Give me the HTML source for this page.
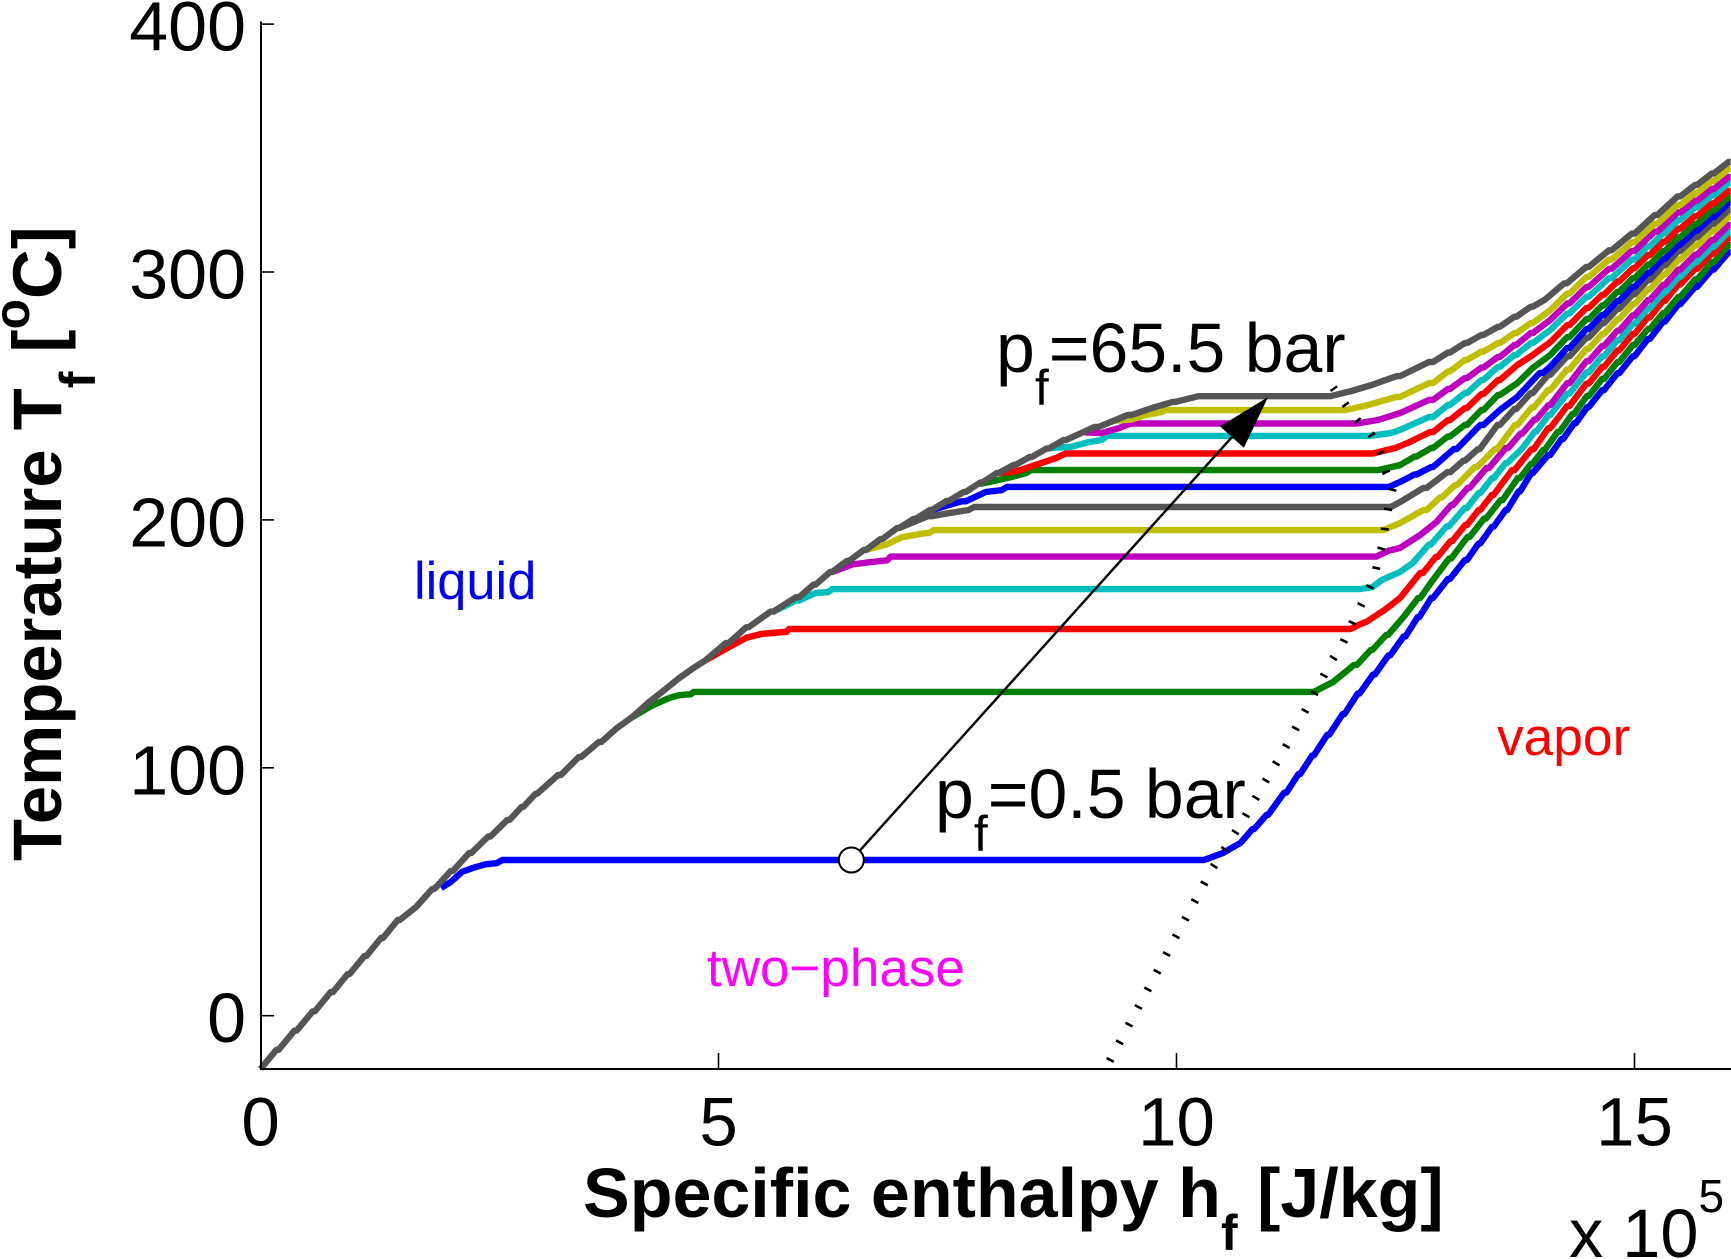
<!DOCTYPE html>
<html lang="en">
<head>
<meta charset="utf-8">
<title>Temperature vs specific enthalpy</title>
<style>
html,body{margin:0;padding:0;background:#fff;}
svg{display:block;font-family:"Liberation Sans",Arial,sans-serif;}
</style>
</head>
<body>
<svg id="chart" width="1731" height="1259" viewBox="0 0 1731 1259" xmlns="http://www.w3.org/2000/svg">
  <rect x="0" y="0" width="1731" height="1259" fill="#fff"/>
  <g id="series-layer"></g>
  <g id="annotation-layer"></g>
  <g id="axis-layer"></g>
  <text x="583" y="1217" font-size="70" font-weight="bold" fill="#000">Specific enthalpy h<tspan font-size="50" dy="33">f</tspan><tspan dy="-33"> [J/kg]</tspan></text>
  <text x="61" y="861" transform="rotate(-90 61 861)" font-size="68.8" font-weight="bold" fill="#000">Temperature T<tspan font-size="50" dy="34">f</tspan><tspan dy="-34"> [</tspan><tspan font-size="50" dy="-32">o</tspan><tspan dy="32">C]</tspan></text>
  <text x="1569" y="1257" font-size="68.5" fill="#000">x 10<tspan font-size="46" dy="-45">5</tspan></text>
  <text x="996" y="372" font-size="69.8" fill="#000">p<tspan font-size="50" dy="33">f</tspan><tspan dy="-33">=65.5 bar</tspan></text>
  <text x="935" y="818" font-size="69.8" fill="#000">p<tspan font-size="50" dy="33">f</tspan><tspan dy="-33">=0.5 bar</tspan></text>
  <text x="414" y="599" font-size="52.4" fill="#0000ff">liquid</text>
  <text x="707" y="986" font-size="53" fill="#ff00ff">two&#8722;phase</text>
  <text x="1497" y="755" font-size="53.3" fill="#ff0000">vapor</text>
</svg>
<script>
// x values are in units of 1e5 J/kg, y values in degrees C
const xTicks = [0, 5, 10, 15];
const yTicks = [0, 100, 200, 300, 400];

const seriesBlue1 = [[1.97,51.5],[2.08,54],[2.2,58],[2.31,59.5],[2.46,61.1],[2.58,61.5],[2.64,62.8],[10.3,62.8],[10.5,65.5],[10.7,69.7],[11.0,81],[11.2,90],[11.5,105],[12,130],[12.5,153],[12.8,168.5],[13.17,183.8],[13.61,204],[13.89,218.9],[14.08,226.2],[14.5,245.5],[15,266],[15.5,287],[16.05,308]];
const seriesGreen1 = [[4.06,120.5],[4.27,125],[4.46,128.1],[4.57,129.3],[4.7,129.7],[4.73,130.6],[11.5,130.6],[11.71,134.6],[11.97,141.5],[12.31,153.6],[12.48,160.9],[12.66,168.5],[12.8,175.8],[13.2,193.1],[13.56,208],[13.75,216.9],[14.02,228.2],[14.5,250],[15,270.5],[15.5,290],[16.05,310.9]];
const seriesRed1 = [[4.86,143.4],[5.08,148],[5.3,152.4],[5.47,154],[5.74,154.8],[5.77,156],[11.9,156],[12.01,158],[12.08,159],[12.27,163.6],[12.44,168.5],[12.69,178.6],[13.17,197.9],[13.46,210],[13.69,220.1],[13.9,228.5],[14.08,237],[14.5,255],[15,275],[15.5,295],[16.05,313.7]];
const seriesCyan1 = [[5.6,163],[5.88,167.5],[6.06,170.5],[6.2,170.9],[6.24,172.1],[12,172.1],[12.14,172.9],[12.24,175.7],[12.44,179],[12.58,182.6],[13.17,204.8],[13.61,222.9],[13.78,229],[14.08,242.3],[14.5,259.5],[15,279],[15.5,298],[16.05,316.2]];
const seriesMagenta1 = [[6.24,179],[6.46,182],[6.64,182.9],[6.84,183.7],[6.88,185.2],[12.18,185.2],[12.31,187.5],[12.44,188.7],[12.66,193.9],[12.84,199.2],[13.2,212.9],[13.62,229],[14.08,246.3],[14.5,264],[15,282.5],[15.5,301],[16.05,318.9]];
const seriesYellow1 = [[6.61,187.9],[6.83,190],[7,193],[7.3,194.7],[7.35,195.9],[12.26,195.9],[12.44,198.7],[12.73,204],[13.06,214],[13.5,228.5],[13.72,238.3],[14.08,252.4],[14.5,269],[15,287],[15.5,305],[16.05,322.2]];
const seriesGrey1 = [[6.97,196.7],[7.33,201.5],[7.51,202.7],[7.73,204],[7.79,205.2],[12.34,205.2],[12.44,207.2],[12.73,212.9],[12.99,219.3],[13.31,228.5],[13.53,238.3],[13.89,251.2],[14.08,258.5],[14.5,273.5],[15,291],[15.5,308.5],[16.05,325]];
const seriesBlue2 = [[7.33,204],[7.7,207.5],[7.92,211.3],[8.09,212],[8.15,213.3],[12.32,213.3],[12.44,215.3],[12.8,221.3],[13.06,228.6],[13.35,238.3],[13.53,244.3],[13.72,249.6],[14,259.3],[14.08,261.8],[14.5,277],[15,294],[15.5,311],[16.05,327.8]];
const seriesGreen2 = [[7.85,214.5],[7.98,215.5],[8.2,217.3],[8.36,218.9],[8.41,220.1],[12.2,220.1],[12.44,222.1],[12.8,229],[13.17,238.3],[13.53,250.4],[13.72,255.2],[13.89,261.3],[14.08,266.5],[14.5,281],[15,297.5],[15.5,314],[16.05,330.2]];
const seriesRed2 = [[8.06,218.9],[8.24,219.5],[8.46,222.1],[8.68,224.9],[8.79,226.8],[12.14,226.8],[12.39,229],[12.52,231],[12.8,235.4],[13.17,245.1],[13.53,256.4],[13.72,262.5],[13.89,266.5],[14.08,271.7],[14.5,285.5],[15,301.5],[15.5,317.5],[16.05,332.7]];
const seriesCyan2 = [[8.61,229],[8.85,229.5],[9.04,231.4],[9.18,232.2],[9.24,233.9],[12.1,233.9],[12.34,235],[12.44,236.3],[12.8,241.5],[13.17,251.2],[13.53,261.7],[13.89,271.3],[14.08,276.6],[14.5,290],[15,305],[15.5,321],[16.05,335.9]];
const seriesMagenta2 = [[9,235.3],[9.18,235],[9.37,237],[9.45,238.2],[9.51,238.9],[11.97,238.9],[12.2,240.3],[12.44,243.1],[12.8,248.4],[13.17,257.2],[13.53,265.7],[13.89,275.4],[14.08,280.6],[14.5,294],[15,308.5],[15.5,324],[16.05,338.3]];
const seriesYellow2 = [[9.33,240],[9.51,240.5],[9.66,242.3],[9.84,243.5],[9.88,244.3],[11.84,244.3],[12.09,246.3],[12.44,249.6],[12.8,255.2],[13.17,264.5],[13.53,271.3],[13.89,279.4],[14.08,284.6],[14.5,298],[15,312],[15.5,327],[16.05,341.6]];
const seriesGrey2 = [[0,-21.5],[0.79,9.5],[1.52,38.6],[1.7,43.9],[2.3,65.6],[2.72,79],[3.02,89.5],[3.28,97.1],[3.5,104.3],[3.72,110.4],[3.89,116],[4.06,120.5],[4.24,126.5],[4.38,130.5],[4.57,136.2],[4.71,139.8],[4.86,143.4],[5.11,150.3],[5.33,156.7],[5.6,163],[5.88,168.8],[6.24,179],[6.61,187.9],[6.97,196.7],[7.33,204],[7.7,211.3],[8.06,218.9],[8.42,225.4],[8.79,232.2],[9.15,237.5],[9.51,242.3],[9.73,245.1],[9.99,247.6],[10.24,249.9],[11.68,249.9],[11.91,252],[12.13,254.4],[12.44,258],[12.8,263.7],[13.17,271.3],[13.53,277.9],[13.89,286],[14.02,288.8],[14.5,302],[15,315.5],[15.5,330.5],[16.05,344.4]];
const saturatedVaporLine = [[9.27,-18.3],[10.38,58.7],[10.74,79.7],[10.96,93.9],[11.18,107.6],[11.38,121.3],[11.7,143.5],[11.81,149.9],[11.97,162.4],[12.07,169.7],[12.16,177],[12.2,183.8],[12.26,191.4],[12.28,198.3],[12.32,206.4],[12.37,214],[12.29,218.9],[12.24,226.1],[12.13,234.2],[11.97,240.3],[11.84,246.8],[11.71,253.3]];

const startState = [6.45, 62.8];
const endState = [11.0, 249.6];

const svgNS = 'http://www.w3.org/2000/svg';
const xScale = function (h) { return 260.5 + h * 91.6; };
const yScale = function (t) { return 1015.7 - t * 2.479; };

function pointsAttr(data) {
  return data.map(function (p) { return xScale(p[0]).toFixed(1) + ',' + yScale(p[1]).toFixed(1); }).join(' ');
}

// the source plot has small quantisation steps along sloped parts of each curve
function steppedPoints(data) {
  const out = [];
  for (let i = 0; i < data.length; i++) {
    const x1 = xScale(data[i][0]);
    const y1 = yScale(data[i][1]);
    if (i === 0) {
      out.push(x1.toFixed(1) + ',' + y1.toFixed(1));
      continue;
    }
    const x0 = xScale(data[i - 1][0]);
    const y0 = yScale(data[i - 1][1]);
    const dx = x1 - x0;
    const dy = y1 - y0;
    const len = Math.hypot(dx, dy);
    if (Math.abs(dy) < 0.5 || len < 24) {
      out.push(x1.toFixed(1) + ',' + y1.toFixed(1));
      continue;
    }
    const n = Math.round(len / 24);
    for (let k = 1; k <= n; k++) {
      const ex = x0 + dx * k / n;
      const ey = y0 + dy * k / n;
      out.push((ex - dx / n * 0.12).toFixed(1) + ',' + ey.toFixed(1));
      out.push(ex.toFixed(1) + ',' + ey.toFixed(1));
    }
  }
  return out.join(' ');
}

const seriesLayer = document.getElementById('series-layer');
const annotationLayer = document.getElementById('annotation-layer');
const axisLayer = document.getElementById('axis-layer');

function addCurve(data, color, name) {
  const line = document.createElementNS(svgNS, 'polyline');
  line.setAttribute('points', steppedPoints(data));
  line.setAttribute('fill', 'none');
  line.setAttribute('stroke', color);
  line.setAttribute('stroke-width', '6.4');
  line.setAttribute('stroke-linejoin', 'round');
  
  
  seriesLayer.appendChild(line);
}

addCurve(seriesBlue1, '#0000ff', 'isobar-blue-0-5-bar');
addCurve(seriesGreen1, '#008000', 'isobar-green-1');
addCurve(seriesRed1, '#ff0000', 'isobar-red-1');
addCurve(seriesCyan1, '#00bfbf', 'isobar-cyan-1');
addCurve(seriesMagenta1, '#bf00bf', 'isobar-magenta-1');
addCurve(seriesYellow1, '#bfbf00', 'isobar-yellow-1');
addCurve(seriesGrey1, '#555555', 'isobar-grey-1');
addCurve(seriesBlue2, '#0000ff', 'isobar-blue-2');
addCurve(seriesGreen2, '#008000', 'isobar-green-2');
addCurve(seriesRed2, '#ff0000', 'isobar-red-2');
addCurve(seriesCyan2, '#00bfbf', 'isobar-cyan-2');
addCurve(seriesMagenta2, '#bf00bf', 'isobar-magenta-2');
addCurve(seriesYellow2, '#bfbf00', 'isobar-yellow-2');
addCurve(seriesGrey2, '#555555', 'isobar-grey-65-5-bar');

const dome = document.createElementNS(svgNS, 'polyline');
dome.setAttribute('points', pointsAttr(saturatedVaporLine));
dome.setAttribute('fill', 'none');
dome.setAttribute('stroke', '#000');
dome.setAttribute('stroke-width', '8');
dome.setAttribute('stroke-dasharray', '2.6 17.4');


seriesLayer.appendChild(dome);

// pressure arrow from the start state to the end state
const ax0 = xScale(startState[0]);
const ay0 = yScale(startState[1]);
const ax1 = xScale(endState[0]);
const ay1 = yScale(endState[1]);
const alen = Math.hypot(ax1 - ax0, ay1 - ay0);
const aux = (ax1 - ax0) / alen;
const auy = (ay1 - ay0) / alen;
const headLen = 54;
const headHalf = 16;
const shaft = document.createElementNS(svgNS, 'line');
shaft.setAttribute('x1', ax0);
shaft.setAttribute('y1', ay0);
shaft.setAttribute('x2', ax1 - aux * headLen * 0.8);
shaft.setAttribute('y2', ay1 - auy * headLen * 0.8);
shaft.setAttribute('stroke', '#000');
shaft.setAttribute('stroke-width', '2.4');


annotationLayer.appendChild(shaft);

const head = document.createElementNS(svgNS, 'polygon');
const bx = ax1 - aux * headLen;
const by = ay1 - auy * headLen;
head.setAttribute('points', ax1 + ',' + ay1 + ' ' + (bx - auy * headHalf) + ',' + (by + aux * headHalf) + ' ' + (bx + auy * headHalf) + ',' + (by - aux * headHalf));
head.setAttribute('fill', '#000');


annotationLayer.appendChild(head);

const marker = document.createElementNS(svgNS, 'circle');
marker.setAttribute('cx', ax0);
marker.setAttribute('cy', ay0);
marker.setAttribute('r', '12.5');
marker.setAttribute('fill', '#fff');
marker.setAttribute('stroke', '#000');
marker.setAttribute('stroke-width', '2');


annotationLayer.appendChild(marker);

// axes
const yAxis = document.createElementNS(svgNS, 'line');
yAxis.setAttribute('x1', '261');
yAxis.setAttribute('x2', '261');
yAxis.setAttribute('y1', '21.5');
yAxis.setAttribute('y2', '1070');
yAxis.setAttribute('stroke', '#000');
yAxis.setAttribute('stroke-width', '2');


axisLayer.appendChild(yAxis);

const xAxis = document.createElementNS(svgNS, 'line');
xAxis.setAttribute('x1', '260');
xAxis.setAttribute('x2', '1731');
xAxis.setAttribute('y1', '1069');
xAxis.setAttribute('y2', '1069');
xAxis.setAttribute('stroke', '#000');
xAxis.setAttribute('stroke-width', '2');


axisLayer.appendChild(xAxis);

yTicks.forEach(function (v) {
  const y = yScale(v);
  const tick = document.createElementNS(svgNS, 'line');
  tick.setAttribute('x1', '261');
  tick.setAttribute('x2', '274');
  tick.setAttribute('y1', y);
  tick.setAttribute('y2', y);
  tick.setAttribute('stroke', '#000');
  tick.setAttribute('stroke-width', '1.6');
  
  
  axisLayer.appendChild(tick);
  const label = document.createElementNS(svgNS, 'text');
  label.setAttribute('x', '246');
  label.setAttribute('y', y + 26.5);
  label.setAttribute('text-anchor', 'end');
  label.setAttribute('font-size', '70');
  label.setAttribute('fill', '#000');
  
  
  label.textContent = v;
  axisLayer.appendChild(label);
});

xTicks.forEach(function (v) {
  const x = xScale(v);
  if (v !== 0) {
    const tick = document.createElementNS(svgNS, 'line');
    tick.setAttribute('x1', x);
    tick.setAttribute('x2', x);
    tick.setAttribute('y1', '1053');
    tick.setAttribute('y2', '1069');
    tick.setAttribute('stroke', '#000');
    tick.setAttribute('stroke-width', '1.6');
    
    
    axisLayer.appendChild(tick);
  }
  const label = document.createElementNS(svgNS, 'text');
  label.setAttribute('x', x);
  label.setAttribute('y', '1145.5');
  label.setAttribute('text-anchor', 'middle');
  label.setAttribute('font-size', '69');
  label.setAttribute('fill', '#000');
  
  
  label.textContent = v;
  axisLayer.appendChild(label);
});
</script>
</body>
</html>
